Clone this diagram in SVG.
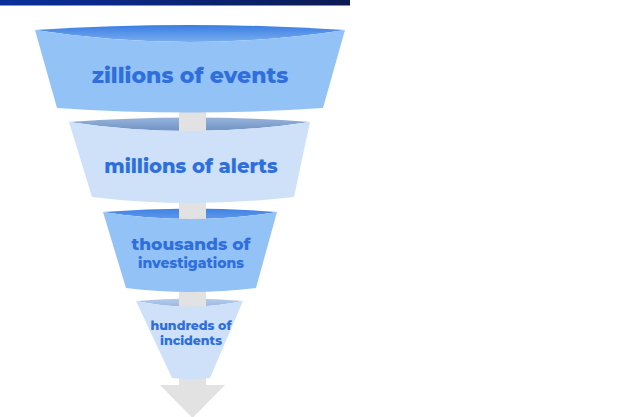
<svg xmlns="http://www.w3.org/2000/svg" width="642" height="417" viewBox="0 0 642 417">
<defs>
<linearGradient id="bar" x1="0" y1="0" x2="1" y2="0">
<stop offset="0" stop-color="#0a2f9c"/><stop offset="1" stop-color="#0b1a52"/>
</linearGradient>
<linearGradient id="capA" x1="0" y1="0" x2="0" y2="1">
<stop offset="0" stop-color="#3a7de2"/><stop offset="1" stop-color="#78adf0"/>
</linearGradient>
<linearGradient id="capB" x1="0" y1="0" x2="0" y2="1">
<stop offset="0" stop-color="#97b3da"/><stop offset="1" stop-color="#6f93c6"/>
</linearGradient>
<linearGradient id="capC" x1="0" y1="0" x2="0" y2="1">
<stop offset="0" stop-color="#3f82e4"/><stop offset="1" stop-color="#5e98ea"/>
</linearGradient>
<linearGradient id="capD" x1="0" y1="0" x2="0" y2="1">
<stop offset="0" stop-color="#b5cdec"/><stop offset="1" stop-color="#9bb8e0"/>
</linearGradient>
<style>
.t{font-family:"Montserrat","Inter","Liberation Sans",sans-serif;font-weight:800;fill:#2e6fdc;text-anchor:middle}
.stem{fill:#e2e2e2}
.dark{fill:#93c2f7}
.light{fill:#cee1f8}
</style>
</defs>
<rect x="0" y="0" width="350" height="5.5" fill="url(#bar)"/>
<g id="caps">
<path d="M35,30 Q190,20 345,30 Q190,54 35,30 Z" fill="url(#capA)"/>
<path d="M69,122 Q190,113 310,122 Q190,140 69,122 Z" fill="url(#capB)"/>
<path d="M103,212 Q190,205 277,212 Q190,226 103,212 Z" fill="url(#capC)"/>
<path d="M136,301 Q190,296 243,301 Q190,312 136,301 Z" fill="url(#capD)"/>
</g>
<g id="connectors">
<rect class="stem" x="179" y="100" width="27" height="286"/>
<polygon class="stem" points="160,385 225,385 192.5,418"/>
</g>
<g id="n1">
<path class="dark" d="M35,30 Q190,54 345,30 L323,108 Q190,117 57,108 Z"/>
<text class="t" x="190" y="83" font-size="22">zillions of events</text>
</g>
<g id="n2">
<path class="light" d="M69,122 Q190,140 310,122 L294,197 Q190,209 92,197 Z"/>
<text class="t" x="191" y="173" font-size="19.5">millions of alerts</text>
</g>
<g id="n3">
<path class="dark" d="M103,212 Q190,226 277,212 L256,288 Q190,296 126,288 Z"/>
<text class="t" x="191" y="250" font-size="17">thousands of</text>
<text class="t" x="191" y="268" font-size="14">investigations</text>
</g>
<g id="n4">
<path class="light" d="M136,301 Q190,312 243,301 L210,378 Q190,380 172,378 Z"/>
<text class="t" x="191" y="330" font-size="12.5">hundreds of</text>
<text class="t" x="191" y="345" font-size="12.5">incidents</text>
</g>
</svg>
